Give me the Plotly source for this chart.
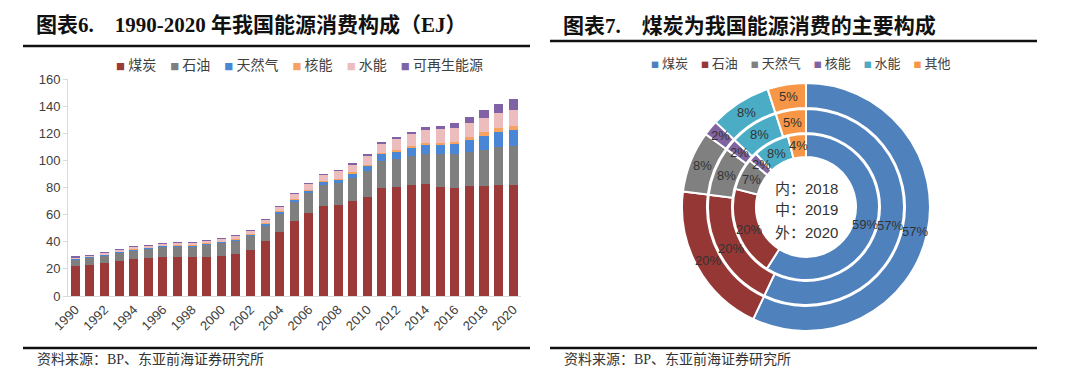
import math
import plotly.graph_objects as go

years = list(range(1990, 2021))
coal = [22.0, 23.0, 24.5, 26.0, 27.5, 28.0, 29.0, 28.5, 28.5, 29.0, 29.5, 31.0, 34.0, 40.5, 47.3,
        55.4, 61.0, 66.0, 67.0, 70.2, 73.0, 80.0, 80.5, 82.0, 82.5, 80.5, 80.0, 80.8, 81.0, 81.5, 82.0]
oil = [5.0, 5.3, 5.6, 6.1, 6.3, 6.8, 7.4, 8.0, 8.3, 8.8, 9.6, 9.8, 10.6, 11.8, 13.5,
       13.9, 14.8, 15.6, 16.0, 17.1, 19.0, 19.8, 20.7, 21.5, 22.4, 23.9, 24.4, 25.6, 26.8, 28.4, 28.5]
gas = [0.55, 0.57, 0.58, 0.62, 0.65, 0.66, 0.7, 0.74, 0.76, 0.83, 0.9, 1.0, 1.1, 1.2, 1.5,
       1.7, 2.1, 2.6, 3.0, 3.3, 4.0, 5.0, 5.5, 6.1, 6.9, 7.0, 7.5, 8.6, 10.0, 11.0, 12.0]
nuclear = [0.0, 0.0, 0.0, 0.02, 0.13, 0.12, 0.13, 0.13, 0.13, 0.14, 0.15, 0.16, 0.23, 0.39, 0.45,
           0.48, 0.5, 0.57, 0.63, 0.65, 0.7, 0.8, 0.9, 1.0, 1.2, 1.6, 2.0, 2.3, 2.8, 3.1, 3.2]
hydro = [1.2, 1.2, 1.3, 1.5, 1.7, 1.8, 1.8, 1.9, 2.0, 2.0, 2.1, 2.6, 2.7, 2.7, 3.4,
         3.8, 4.2, 4.6, 5.8, 5.9, 6.9, 6.6, 8.5, 8.5, 9.6, 9.9, 10.3, 10.4, 10.7, 11.3, 11.7]
renew = [0.02, 0.02, 0.02, 0.02, 0.02, 0.03, 0.03, 0.03, 0.03, 0.03, 0.03, 0.03, 0.03, 0.03, 0.04,
         0.04, 0.06, 0.09, 0.17, 0.3, 0.5, 0.8, 1.1, 1.6, 2.0, 2.6, 3.4, 4.5, 5.6, 6.6, 7.8]

bar_names = ["煤炭", "石油", "天然气", "核能", "水能", "可再生能源"]
bar_colors = ["#9B3A38", "#7F7F7F", "#4A86D6", "#F5A262", "#EDBDBD", "#8062A6"]
bar_series = [coal, oil, gas, nuclear, hydro, renew]
tick_years = list(range(1990, 2021, 2))

pie_labels = ["煤炭", "石油", "天然气", "核能", "水能", "其他"]
pie_colors = ["#4F81BD", "#953735", "#808080", "#8064A2", "#4BACC6", "#F79646"]
share_2018 = [59, 20, 7, 2, 8, 4]
share_2019 = [57, 20, 8, 2, 8, 5]
share_2020 = [57, 20, 8, 2, 8, 5]
ring_names = ["内", "中", "外"]
ring_years = ["2018", "2019", "2020"]

# page has an 8px body margin: figure is sized to fill the rest of the 1080x385 window
OFF = 8
W, H = 1080 - OFF, 385 - OFF
CJK = "Noto Sans CJK SC"
SANS = "Liberation Sans, Noto Sans CJK SC"
SERIF = "Liberation Serif, Noto Sans CJK SC"


def px(x):
    return (x - OFF) / W


def py(y):
    return (H - (y - OFF)) / H


fig = go.Figure()
for name, color, vals in zip(bar_names, bar_colors, bar_series):
    fig.add_trace(go.Bar(x=years, y=vals, name=name, marker=dict(color=color, line=dict(width=0)),
                         showlegend=False))

# donut rings (outer 2020, middle 2019, inner 2018): center and radii in px
cx, cy = 806, 207
rings = [(share_2020, 124, 99), (share_2019, 98, 74), (share_2018, 73, 50)]
for vals, r_out, r_in in rings:
    fig.add_trace(go.Pie(
        labels=pie_labels, values=vals, sort=False, direction="clockwise", rotation=0,
        hole=r_in / r_out,
        domain=dict(x=[px(cx - r_out), px(cx + r_out)], y=[py(cy + r_out), py(cy - r_out)]),
        marker=dict(colors=pie_colors, line=dict(color="white", width=2)),
        textinfo="none", showlegend=False, hoverinfo="label+value",
    ))
    # slice labels placed at the middle angle of each slice
    total = sum(vals)
    cum = 0.0
    rm = (r_out + r_in) / 2
    for v in vals:
        ang = 2 * math.pi * (cum + v / 2) / total
        cum += v
        fig.add_annotation(x=px(cx + rm * math.sin(ang)), y=py(cy - rm * math.cos(ang)),
                           xref="paper", yref="paper", xanchor="center", yanchor="middle",
                           text=f"{v}%", showarrow=False,
                           font=dict(family=SANS, size=13, color="#333333"))

fig.update_layout(
    width=W, height=H, margin=dict(l=0, r=0, t=0, b=0, autoexpand=False),
    paper_bgcolor="white", plot_bgcolor="white",
    barmode="stack", bargap=0.38, showlegend=False,
    font=dict(family=SANS, color="#595959", size=13),
    xaxis=dict(domain=[px(68), px(520.5)], range=[1989.5, 2020.5], automargin=False,
               tickmode="array", tickvals=tick_years, ticktext=[str(y) for y in tick_years],
               tickangle=-45, showline=True, linecolor="#D9D9D9", linewidth=1,
               ticks="", showgrid=False, zeroline=False,
               tickfont=dict(family=SANS, size=13, color="#404040")),
    yaxis=dict(domain=[py(296), py(79)], range=[0, 160], dtick=20, automargin=False,
               showline=True, linecolor="#D9D9D9", linewidth=1, ticks="outside", ticklen=4,
               tickcolor="#D9D9D9", showgrid=False, zeroline=False,
               tickfont=dict(family=SANS, size=13, color="#404040")),
)


def legend_row(names, colors, sq=9):
    parts = [f'<span style="color:{c};font-size:{sq}px">■</span> {n}' for n, c in zip(names, colors)]
    return "　".join(parts)


fig.add_annotation(x=px(299), y=py(64), xref="paper", yref="paper", xanchor="center", yanchor="middle",
                   text=legend_row(bar_names, bar_colors), showarrow=False,
                   font=dict(family=CJK, size=14, color="#404040"))
fig.add_annotation(x=px(801), y=py(63), xref="paper", yref="paper", xanchor="center", yanchor="middle",
                   text=legend_row(pie_labels, pie_colors, sq=8), showarrow=False,
                   font=dict(family=CJK, size=13, color="#404040"))

# titles
fig.add_annotation(x=px(34), y=py(25), xref="paper", yref="paper", xanchor="left", yanchor="middle",
                   text="<b>图表6.&nbsp;&nbsp;&nbsp;&nbsp;1990-2020 年我国能源消费构成（EJ）</b>", showarrow=False,
                   font=dict(family=SERIF, size=21, color="#111111"))
fig.add_annotation(x=px(561), y=py(26), xref="paper", yref="paper", xanchor="left", yanchor="middle",
                   text="<b>图表7.&nbsp;&nbsp;&nbsp;&nbsp;煤炭为我国能源消费的主要构成</b>", showarrow=False,
                   font=dict(family=SERIF, size=21, color="#111111"))
for x0 in (35, 562):
    fig.add_annotation(x=px(x0), y=py(359), xref="paper", yref="paper", xanchor="left", yanchor="middle",
                       text="资料来源：BP、东亚前海证券研究所", showarrow=False,
                       font=dict(family=SERIF, size=14, color="#333333"))

# donut center text
for i, (nm, yr) in enumerate(zip(ring_names, ring_years)):
    fig.add_annotation(x=px(cx), y=py(188 + 22 * i), xref="paper", yref="paper",
                       xanchor="center", yanchor="middle",
                       text=f"{nm}：{yr}", showarrow=False,
                       font=dict(family=SANS, size=15, color="#333333"))

# rules
for (x0, x1, yt, yb) in [(23, 530, 46, 348), (550, 1037, 41, 348)]:
    for yy in (yt, yb):
        fig.add_shape(type="line", xref="paper", yref="paper", x0=px(x0), x1=px(x1),
                      y0=py(yy), y1=py(yy), line=dict(color="#111111", width=2.5))

fig.write_html("out.html")
